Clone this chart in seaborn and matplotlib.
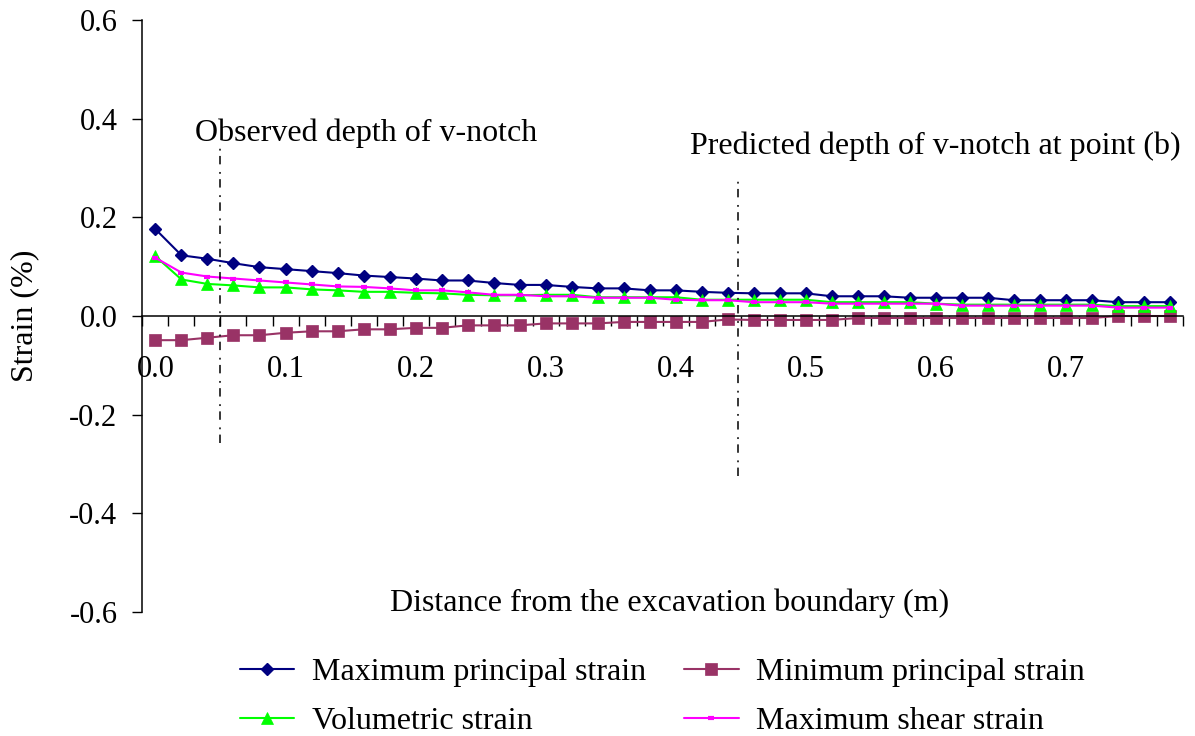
import numpy as np
import pandas as pd
import seaborn as sns
import matplotlib.pyplot as plt

# Strain profiles along the distance from the excavation boundary
distance = [0.00, 0.02, 0.04, 0.06, 0.08, 0.10, 0.12, 0.14, 0.16, 0.18,
            0.20, 0.22, 0.24, 0.26, 0.28, 0.30, 0.32, 0.34, 0.36, 0.38,
            0.40, 0.42, 0.44, 0.46, 0.48, 0.50, 0.52, 0.54, 0.56, 0.58,
            0.60, 0.62, 0.64, 0.66, 0.68, 0.70, 0.72, 0.74, 0.76, 0.78]

max_principal = [0.176, 0.123, 0.116, 0.107, 0.099, 0.095, 0.091, 0.087, 0.082, 0.079,
                 0.076, 0.072, 0.072, 0.067, 0.063, 0.063, 0.059, 0.056, 0.056, 0.052,
                 0.052, 0.049, 0.047, 0.046, 0.046, 0.046, 0.040, 0.040, 0.040, 0.037,
                 0.037, 0.037, 0.037, 0.032, 0.032, 0.032, 0.032, 0.028, 0.028, 0.028]

min_principal = [-0.049, -0.049, -0.044, -0.039, -0.039, -0.034, -0.031, -0.031, -0.027, -0.027,
                 -0.024, -0.024, -0.019, -0.019, -0.019, -0.015, -0.015, -0.015, -0.012, -0.012,
                 -0.012, -0.012, -0.007, -0.008, -0.008, -0.008, -0.008, -0.004, -0.004, -0.004,
                 -0.004, -0.004, -0.004, -0.004, -0.004, -0.004, -0.004, 0.000, 0.000, 0.000]

volumetric = [0.121, 0.074, 0.065, 0.062, 0.058, 0.058, 0.054, 0.052, 0.049, 0.049,
              0.047, 0.046, 0.043, 0.042, 0.042, 0.043, 0.043, 0.038, 0.038, 0.038,
              0.038, 0.033, 0.033, 0.033, 0.033, 0.033, 0.028, 0.028, 0.028, 0.028,
              0.025, 0.023, 0.023, 0.023, 0.023, 0.023, 0.023, 0.020, 0.020, 0.020]

max_shear = [0.118, 0.088, 0.080, 0.076, 0.072, 0.068, 0.064, 0.060, 0.059, 0.056,
             0.052, 0.052, 0.048, 0.043, 0.043, 0.040, 0.040, 0.037, 0.037, 0.037,
             0.033, 0.032, 0.032, 0.028, 0.028, 0.028, 0.025, 0.025, 0.025, 0.025,
             0.025, 0.021, 0.021, 0.021, 0.021, 0.021, 0.021, 0.017, 0.017, 0.017]

x_ticks = [0.0, 0.1, 0.2, 0.3, 0.4, 0.5, 0.6, 0.7]
y_ticks = [-0.6, -0.4, -0.2, 0.0, 0.2, 0.4, 0.6]

# v-notch depth markers
notch_x = [0.05, 0.448]
notch_top = [0.35, 0.286]
notch_bottom = [-0.258, -0.324]
notch_text = ['Observed depth of v-notch', 'Predicted depth of v-notch at point (b)']
notch_text_x = [0.0304, 0.411]
notch_text_y = [0.355, 0.328]

df = pd.DataFrame({'distance': distance, 'max_principal': max_principal,
                   'min_principal': min_principal, 'volumetric': volumetric,
                   'max_shear': max_shear})

sns.set_style('ticks')
plt.rcParams['font.family'] = ['Liberation Serif', 'DejaVu Serif']
plt.rcParams['axes.unicode_minus'] = False
plt.rcParams['text.color'] = 'black'
plt.rcParams['axes.labelcolor'] = 'black'

fig = plt.figure(figsize=(11.95, 7.36), dpi=100)
ax = fig.add_axes([0.1192, 0.1685, 0.8707, 0.8043])

# draw order as in the original: max, min, volumetric, shear
sns.lineplot(data=df, x='distance', y='max_principal', ax=ax, color='#000080', lw=1.5,
             marker='D', markersize=6.5, markeredgecolor='#000080', markeredgewidth=1,
             errorbar=None, legend=False, label='Maximum principal strain')
sns.lineplot(data=df, x='distance', y='min_principal', ax=ax, color='#993366', lw=1.5,
             marker='s', markersize=9.3, markeredgecolor='#993366', markeredgewidth=0.5,
             errorbar=None, legend=False, label='Minimum principal strain')
sns.lineplot(data=df, x='distance', y='volumetric', ax=ax, color='#00FF00', lw=1.5,
             marker='^', markersize=9, markeredgecolor='#00FF00', markeredgewidth=0.5,
             errorbar=None, legend=False, label='Volumetric strain')
sns.lineplot(data=df, x='distance', y='max_shear', ax=ax, color='#FF00FF', lw=1.5,
             marker='_', markersize=5, markeredgecolor='#FF00FF', markeredgewidth=3,
             errorbar=None, legend=False, label='Maximum shear strain')

ax.vlines(notch_x, notch_bottom, notch_top, colors='black', lw=1.1,
          linestyles=[(0, (5.5, 3.5, 1.2, 5.0))])
for tx, ty, t in zip(notch_text_x, notch_text_y, notch_text):
    ax.text(tx, ty, t, fontsize=23, va='baseline', ha='left', color='black')

ax.set_xlim(-0.01, 0.79)
ax.set_ylim(-0.6, 0.6)

ax.spines['top'].set_visible(False)
ax.spines['right'].set_visible(False)
ax.spines['bottom'].set_position(('data', 0))
for s in ['left', 'bottom']:
    ax.spines[s].set_color('black')
    ax.spines[s].set_linewidth(1.1)

ax.set_xticks(x_ticks)
ax.set_xticklabels(['%.1f' % v for v in x_ticks])
ax.set_xticks(np.arange(-0.01, 0.80, 0.02), minor=True)
ax.tick_params(axis='x', which='major', length=0, pad=28, labelsize=22, colors='black')
ax.tick_params(axis='x', which='minor', length=7, width=1, direction='out', color='black')

ax.set_yticks(y_ticks)
ax.set_yticklabels(['%.1f' % v for v in y_ticks])
ax.tick_params(axis='y', length=7, width=1, direction='out', pad=11, labelsize=22, colors='black')

ax.set_xlabel('')
ax.text(0.395, -0.583, 'Distance from the excavation boundary (m)', fontsize=23,
        ha='center', va='center', color='black')
ax.set_ylabel('Strain (%)', fontsize=23, color='black')
ax.yaxis.set_label_coords(-0.099, 0.5)

lines = ax.get_lines()
handles = [lines[0], lines[2], lines[1], lines[3]]
fig.legend(handles, [h.get_label() for h in handles], loc='upper left',
           bbox_to_anchor=(240 / 1195, (736 - 658) / 736), ncol=2, frameon=False,
           fontsize=23, handlelength=1.7, handletextpad=0.55, columnspacing=1.2,
           labelspacing=0.6, borderpad=0, borderaxespad=0)

fig.savefig('out.png', dpi=100)
